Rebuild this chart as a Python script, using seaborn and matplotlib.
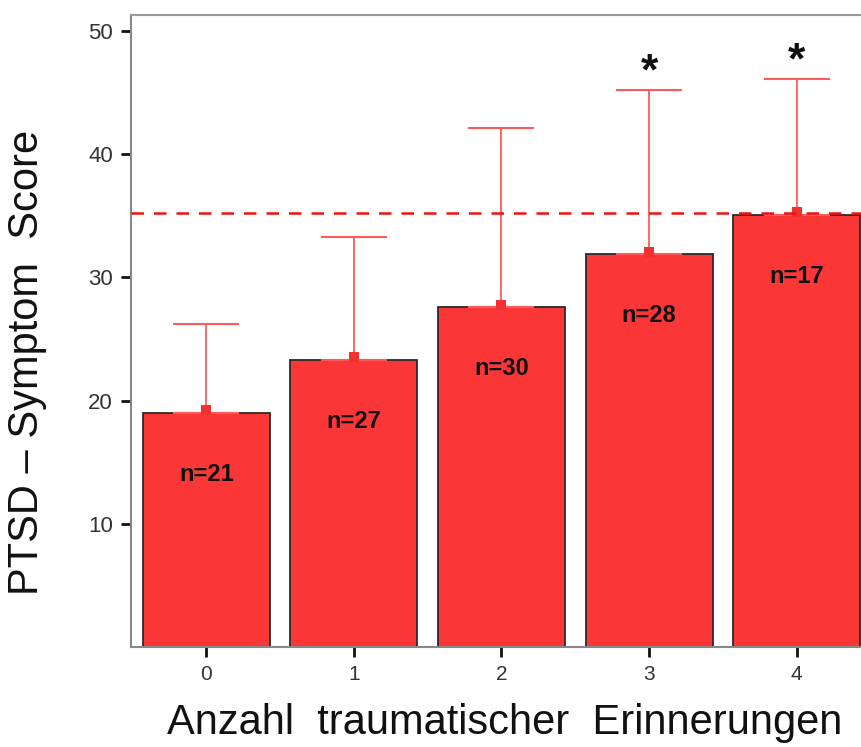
import matplotlib
matplotlib.use("Agg")
import matplotlib.pyplot as plt
import seaborn as sns
import pandas as pd

categories = ["0", "1", "2", "3", "4"]
means = [19.0, 23.3, 27.6, 31.9, 35.1]
upper = [26.2, 33.3, 42.1, 45.2, 46.1]
n_labels = ["n=21", "n=27", "n=30", "n=28", "n=17"]
stars = ["", "", "", "*", "*"]
reference_line = 35.2
yticks = [10, 20, 30, 40, 50]

sns.set_style("white")
plt.rcParams["font.family"] = ["Liberation Sans", "DejaVu Sans"]

df = pd.DataFrame({"k": categories, "score": means})

fig = plt.figure(figsize=(8.62, 7.47), dpi=100)
ax = fig.add_axes([131/862, 1-647/747, (872-131)/862, (647-15)/747])

sns.barplot(data=df, x="k", y="score", ax=ax, color="#fa3636", saturation=1,
            width=0.86, edgecolor="#2a2a2a", linewidth=1.3, errorbar=None, zorder=2)

xs = list(range(len(categories)))
err_up = [u - m for u, m in zip(upper, means)]
ax.errorbar(xs, means, yerr=[[0]*len(means), err_up], fmt="none", ecolor="#ff5a5a",
            elinewidth=1.3, capsize=24, capthick=1.5, zorder=3)
ax.scatter(xs, [m + 0.2 for m in means], marker="s", s=50, color="#f23030", zorder=3, linewidths=0)

ax.axhline(reference_line, color="#ee1111", linestyle=(0, (5, 4)), linewidth=1.8, zorder=4)

for x, m, lab in zip(xs, means, n_labels):
    ax.text(x, m - 5.0, lab, ha="center", va="center", fontsize=17, fontweight="bold", color="#111")
for x, u, s in zip(xs, upper, stars):
    if s:
        ax.text(x, u + 1.4, s, ha="center", va="center", fontsize=32, fontweight="bold", color="#111")

ax.set_xlim(-0.51, 4.51)
ax.set_ylim(0, 51.3)
ax.set_yticks(yticks)
ax.set_yticklabels([str(t) for t in yticks], fontsize=16, color="#333")
ax.set_xticks(xs)
ax.set_xticklabels(categories, fontsize=15, color="#333")
ax.tick_params(axis="both", direction="out", length=7, width=2, color="#111", pad=6, left=True, bottom=True)

ax.spines["right"].set_visible(False)
for side in ["left", "bottom"]:
    ax.spines[side].set_color("#888")
    ax.spines[side].set_linewidth(1.5)
ax.spines["top"].set_color("#999")
ax.spines["top"].set_linewidth(1.5)
ax.spines["top"].set_linestyle((0, (1, 1)))

ax.set_ylabel("PTSD – Symptom  Score", fontsize=30, color="#111")
ax.yaxis.set_label_coords(-(131 - 47) / 741, (647 - 362) / 632)
ax.set_xlabel("Anzahl  traumatischer  Erinnerungen", fontsize=30, color="#111")
ax.xaxis.set_label_coords((505 - 131) / 741, -(703 - 647) / 632)

fig.savefig("out.png", dpi=100)
